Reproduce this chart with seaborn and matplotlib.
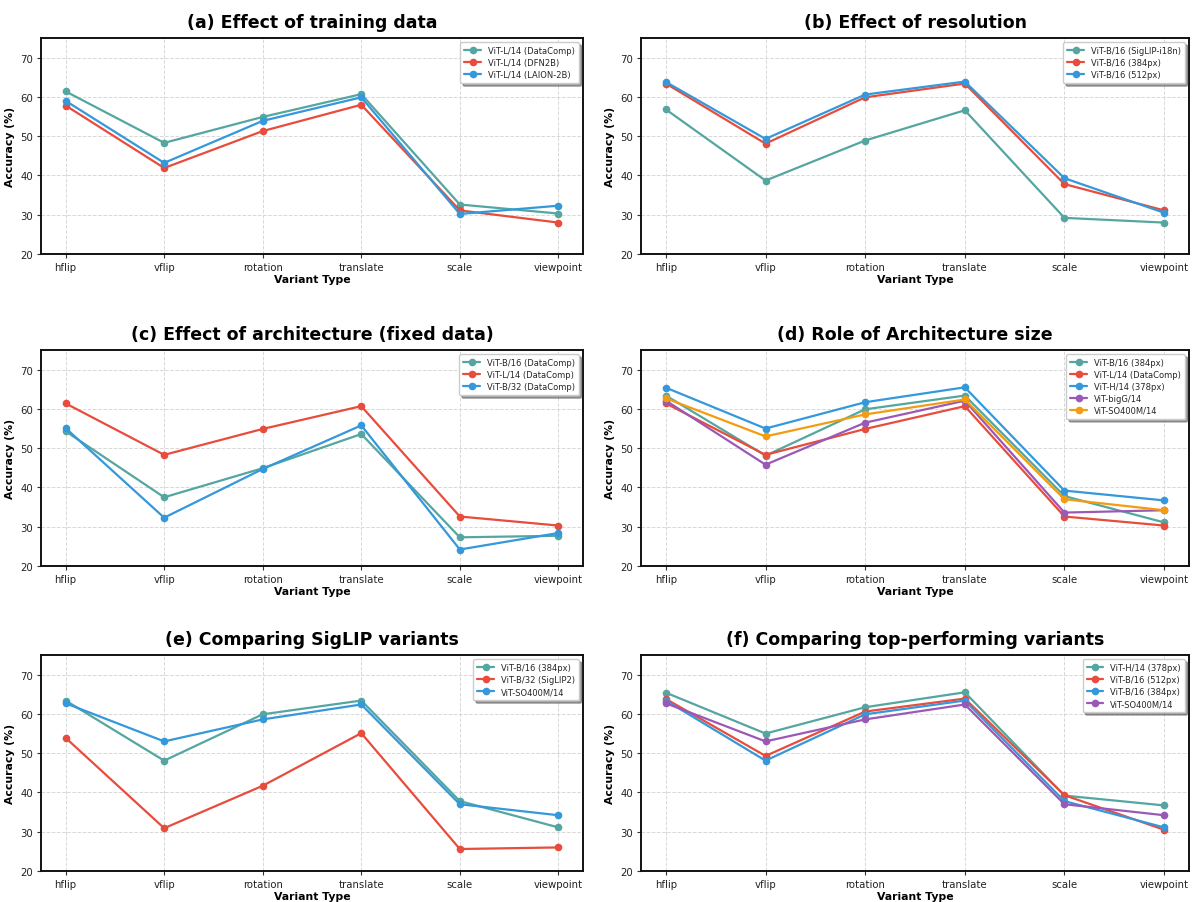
import matplotlib
matplotlib.use("Agg")
import matplotlib.pyplot as plt
import seaborn as sns
import pandas as pd

# ---------------- data ----------------
variants = ["hflip", "vflip", "rotation", "translate", "scale", "viewpoint"]

L14_DataComp = [61.4, 48.3, 54.9, 60.7, 32.6, 30.3]
L14_DFN2B = [57.8, 41.9, 51.3, 58.0, 31.1, 28.0]
L14_LAION2B = [59.0, 43.2, 53.9, 59.9, 30.2, 32.3]
B16_SigLIP_i18n = [56.8, 38.7, 48.9, 56.6, 29.2, 28.0]
B16_384 = [63.4, 48.1, 59.9, 63.4, 37.8, 31.1]
B16_512 = [63.8, 49.3, 60.6, 63.9, 39.3, 30.5]
B16_DataComp = [54.3, 37.5, 44.9, 53.6, 27.3, 27.7]
B32_DataComp = [55.1, 32.3, 44.7, 55.8, 24.2, 28.4]
H14_378 = [65.4, 55.0, 61.7, 65.5, 39.2, 36.7]
bigG14 = [62.1, 45.8, 56.5, 62.1, 33.6, 34.2]
SO400M14 = [62.7, 53.0, 58.6, 62.4, 37.0, 34.2]
B32_SigLIP2 = [53.9, 30.9, 41.7, 55.1, 25.6, 26.0]

panel_titles = [
    "(a) Effect of training data",
    "(b) Effect of resolution",
    "(c) Effect of architecture (fixed data)",
    "(d) Role of Architecture size",
    "(e) Comparing SigLIP variants",
    "(f) Comparing top-performing variants",
]

panel_series = [
    [("ViT-L/14 (DataComp)", L14_DataComp),
     ("ViT-L/14 (DFN2B)", L14_DFN2B),
     ("ViT-L/14 (LAION-2B)", L14_LAION2B)],
    [("ViT-B/16 (SigLIP-i18n)", B16_SigLIP_i18n),
     ("ViT-B/16 (384px)", B16_384),
     ("ViT-B/16 (512px)", B16_512)],
    [("ViT-B/16 (DataComp)", B16_DataComp),
     ("ViT-L/14 (DataComp)", L14_DataComp),
     ("ViT-B/32 (DataComp)", B32_DataComp)],
    [("ViT-B/16 (384px)", B16_384),
     ("ViT-L/14 (DataComp)", L14_DataComp),
     ("ViT-H/14 (378px)", H14_378),
     ("ViT-bigG/14", bigG14),
     ("ViT-SO400M/14", SO400M14)],
    [("ViT-B/16 (384px)", B16_384),
     ("ViT-B/32 (SigLIP2)", B32_SigLIP2),
     ("ViT-SO400M/14", SO400M14)],
    [("ViT-H/14 (378px)", H14_378),
     ("ViT-B/16 (512px)", B16_512),
     ("ViT-B/16 (384px)", B16_384),
     ("ViT-SO400M/14", SO400M14)],
]

colors = ["#55a6a0", "#e74c3c", "#3498db", "#9b59b6", "#f39c12"]

# ---------------- style ----------------
sns.set_style("whitegrid")
plt.rcParams["font.family"] = ["DejaVu Sans"]

W, H = 1192, 903
fig = plt.figure(figsize=(W / 100, H / 100), dpi=100)

col_x = [(41, 542), (641, 548)]
row_y = [(39, 255), (351, 567), (656, 872)]

for i, (title, series) in enumerate(zip(panel_titles, panel_series)):
    r, c = divmod(i, 2)
    x0, w = col_x[c]
    top, bottom = row_y[r]
    ax = fig.add_axes([x0 / W, (H - bottom) / H, w / W, (bottom - top) / H])

    rows = []
    for name, vals in series:
        for v, val in zip(variants, vals):
            rows.append({"Variant": v, "Accuracy": val, "Model": name})
    df = pd.DataFrame(rows)
    names = [n for n, _ in series]
    sns.lineplot(data=df, x="Variant", y="Accuracy", hue="Model",
                 hue_order=names, palette=colors[:len(names)],
                 marker="o", markersize=5.5, markeredgewidth=0,
                 linewidth=1.6, sort=False, errorbar=None, ax=ax)

    ax.set_ylim(20, 75)
    ax.set_yticks([20, 30, 40, 50, 60, 70])
    ax.grid(True, linestyle="--", color="#d8d8d8", linewidth=0.7)
    for sp in ax.spines.values():
        sp.set_color("#111111")
        sp.set_linewidth(1.4)
    ax.tick_params(axis="both", which="major", labelsize=7.3, length=3,
                   width=0.8, color="#333333", pad=2.5, labelcolor="#222222",
                   bottom=True, left=True)
    ax.set_xlabel("Variant Type", fontsize=7.8, fontweight="bold",
                  labelpad=2, color="black")
    ax.set_ylabel("Accuracy (%)", fontsize=7.8, fontweight="bold",
                  labelpad=4, color="black")
    ax.set_title(title, fontsize=12.5, fontweight="bold", pad=8, color="black")
    leg = ax.legend(loc="upper right", fontsize=6, frameon=True, shadow=True,
                    fancybox=True, framealpha=1.0, borderpad=0.5,
                    handlelength=2.0, labelspacing=0.35)
    leg.get_frame().set_edgecolor("#cccccc")

fig.savefig("out.png", dpi=100)
